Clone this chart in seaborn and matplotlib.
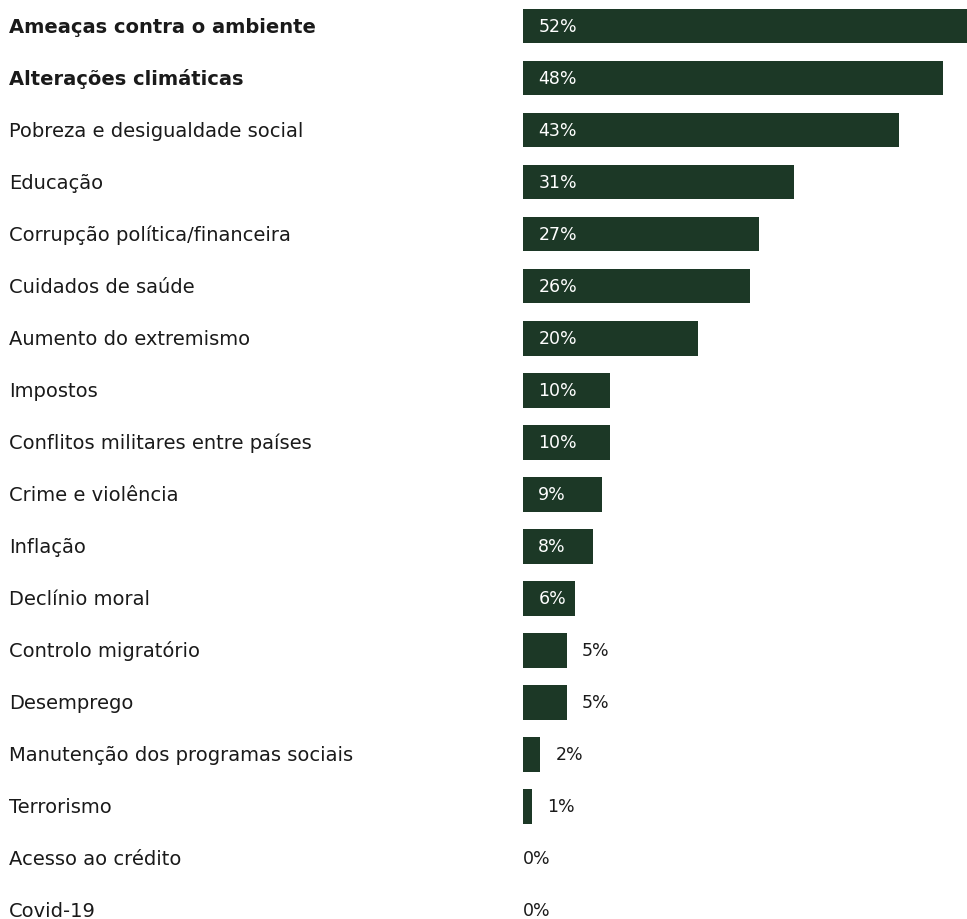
import matplotlib
matplotlib.use('Agg')
import matplotlib.pyplot as plt
import matplotlib.transforms as mtransforms
import seaborn as sns
import pandas as pd

categories = [
    'Ameaças contra o ambiente',
    'Alterações climáticas',
    'Pobreza e desigualdade social',
    'Educação',
    'Corrupção política/financeira',
    'Cuidados de saúde',
    'Aumento do extremismo',
    'Impostos',
    'Conflitos militares entre países',
    'Crime e violência',
    'Inflação',
    'Declínio moral',
    'Controlo migratório',
    'Desemprego',
    'Manutenção dos programas sociais',
    'Terrorismo',
    'Acesso ao crédito',
    'Covid-19',
]
values = [52, 48, 43, 31, 27, 26, 20, 10, 10, 9, 8, 6, 5, 5, 2, 1, 0, 0]
bold_rows = ['Ameaças contra o ambiente', 'Alterações climáticas']

bar_color = '#1c3826'
text_color = '#1a1a1a'

df = pd.DataFrame({'Tema': categories, 'Pct': values})

sns.set_style('white')
plt.rcParams['font.family'] = ['DejaVu Sans']

fig = plt.figure(figsize=(9.67, 9.2), dpi=100)
ax = fig.add_axes([523 / 967, 0, 444 / 967, 1])

sns.barplot(data=df, x='Pct', y='Tema', orient='h', color=bar_color,
            saturation=1, width=0.67, linewidth=0, ax=ax)

ax.set_xlim(0, 444 / 8.74)
ax.set_ylim(17.17, -0.52)
ax.set_axis_off()

# category labels at the left edge of the figure
trans = mtransforms.blended_transform_factory(fig.transFigure, ax.transData)
for i, name in enumerate(categories):
    ax.text(9 / 967, i, name, transform=trans, ha='left', va='center',
            fontsize=14, color=text_color,
            fontweight='bold' if name in bold_rows else 'normal')

# value labels: inside the bar when wide enough, otherwise after it
for i, v in enumerate(values):
    if v >= 6:
        ax.annotate(f'{v}%', (0, i), xytext=(11, 0), textcoords='offset points',
                    ha='left', va='center', fontsize=12.5, color='white')
    elif v > 0:
        ax.annotate(f'{v}%', (v, i), xytext=(11, 0), textcoords='offset points',
                    ha='left', va='center', fontsize=12.5, color=text_color)
    else:
        ax.annotate(f'{v}%', (0, i), ha='left', va='center',
                    fontsize=12.5, color=text_color)

fig.savefig('out.png', dpi=100, facecolor='white')
